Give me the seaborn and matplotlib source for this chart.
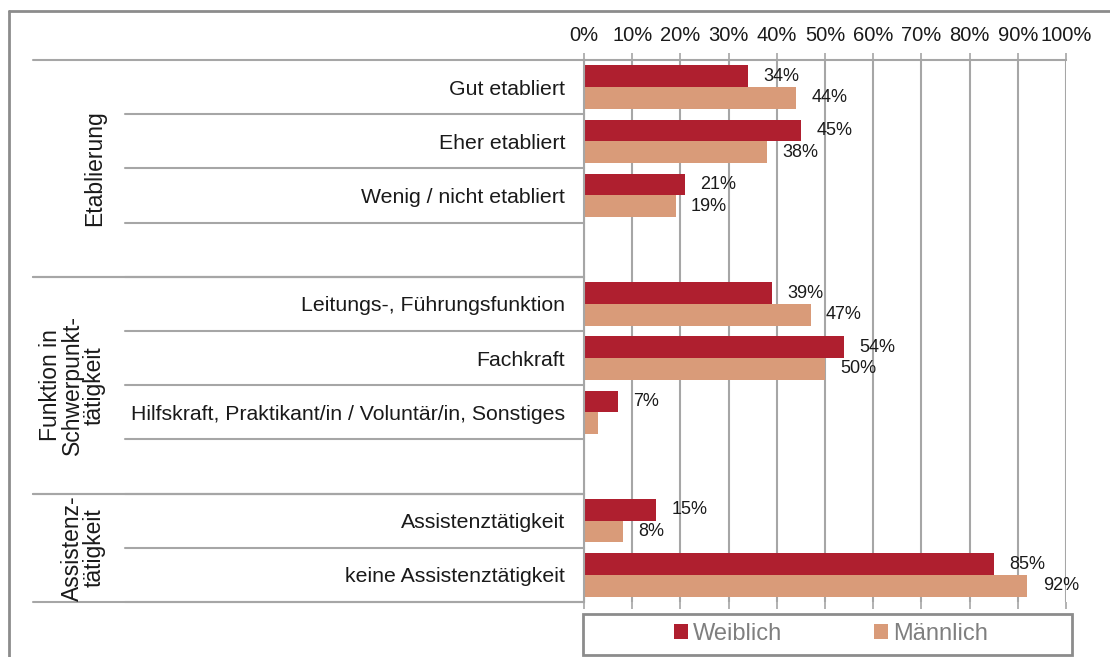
import numpy as np
import pandas as pd
import matplotlib
matplotlib.use("Agg")
import matplotlib.pyplot as plt
from matplotlib.lines import Line2D
from matplotlib.patches import Patch, Rectangle
import seaborn as sns

# Data (percent)
group_names = ["Etablierung", "Funktion in\nSchwerpunkt-\ntätigkeit", "Assistenz-\ntätigkeit"]
group_items = [
    ["Gut etabliert", "Eher etabliert", "Wenig / nicht etabliert"],
    ["Leitungs-, Führungsfunktion", "Fachkraft",
     "Hilfskraft, Praktikant/in / Voluntär/in, Sonstiges"],
    ["Assistenztätigkeit", "keine Assistenztätigkeit"],
]
weiblich = [34, 45, 21, 39, 54, 7, 15, 85]
maennlich = [44, 38, 19, 47, 50, 3, 8, 92]
series = ["Weiblich", "Männlich"]
colors = ["#AF1F2F", "#D99B79"]
ticks = list(range(0, 101, 10))
min_label = 5  # smaller values have no data label in the original

sns.set_theme(style="white")
plt.rcParams["font.family"] = ["Liberation Sans", "DejaVu Sans"]

# build category order, with one empty slot after the first two groups
order, group_span, blank = [], [], 0
for gi, items in enumerate(group_items):
    start = len(order)
    order += items
    if gi < len(group_items) - 1:
        blank += 1
        order.append(" " * blank)
    group_span.append((start, len(order)))

cats = [c for items in group_items for c in items]
df = pd.DataFrame({
    "Kategorie": cats * 2,
    "Geschlecht": [series[0]] * len(cats) + [series[1]] * len(cats),
    "Wert": weiblich + maennlich,
})

fig = plt.figure(figsize=(11.1, 6.57), dpi=100)
ax = fig.add_axes([584 / 1110, 1 - 602 / 657, 482 / 1110, 542 / 657])

sns.barplot(data=df, y="Kategorie", x="Wert", hue="Geschlecht", order=order,
            hue_order=series, palette=colors, orient="h", width=0.8,
            linewidth=0, saturation=1, ax=ax, legend=False)

for c in ax.containers:
    labels = [f"{v:.0f}%" if v >= min_label else "" for v in c.datavalues]
    ax.bar_label(c, labels=labels, padding=11, fontsize=13, color="#1a1a1a")

grid_c = "#a6a6a6"
ax.set_xlim(0, 100)
ax.set_ylim(len(order) - 0.5, -0.5)
ax.set_xticks(ticks)
ax.set_xticklabels([f"{t}%" for t in ticks], fontsize=14.5, color="#1a1a1a")
ax.xaxis.tick_top()
ax.tick_params(axis="x", top=True, bottom=True, labelbottom=False, length=5,
               width=1.2, color=grid_c, pad=6, direction="out")
ax.grid(axis="x", color=grid_c, linewidth=1.5)
ax.set_axisbelow(True)
ax.set_xlabel("")
ax.set_ylabel("")
ax.set_yticks(range(len(order)))
ax.set_yticklabels([o.strip() for o in order], fontsize=15.3, color="#1a1a1a")
ax.tick_params(axis="y", left=False, length=0, pad=13.5)
for s in ["bottom", "right"]:
    ax.spines[s].set_visible(False)
for s in ["left", "top"]:
    ax.spines[s].set_color(grid_c)
    ax.spines[s].set_linewidth(1.5)

# separator lines in the label area
trans = ax.get_yaxis_transform()
x_group = (33 - 584) / 482
x_inner = (125 - 584) / 482
for gi, (start, end) in enumerate(group_span):
    for b in range(start, end):
        ax.add_line(Line2D([x_inner, 0], [b + 0.5, b + 0.5], transform=trans,
                           color=grid_c, linewidth=1.5, clip_on=False))
    for y in (start - 0.5, end - 0.5):
        ax.add_line(Line2D([x_group, 0], [y, y], transform=trans,
                           color=grid_c, linewidth=1.5, clip_on=False))
    ax.text((106 - 584) / 482, (start + end - 1) / 2, group_names[gi],
            transform=trans, rotation=90, ha="right", va="center",
            multialignment="center", fontsize=16.5, color="#1a1a1a",
            linespacing=0.95)

# outer chart border (cropped at right and bottom)
border_c = "#8c8c8c"
fig.add_artist(Line2D([9 / 1110, 1.01], [1 - 11 / 657] * 2, transform=fig.transFigure,
                      color=border_c, linewidth=2))
fig.add_artist(Line2D([9 / 1110] * 2, [-0.01, 1 - 11 / 657], transform=fig.transFigure,
                      color=border_c, linewidth=2))

# legend box
fig.add_artist(Rectangle((583 / 1110, 1 - 655 / 657), 489 / 1110, 41 / 657,
                         transform=fig.transFigure, facecolor="white",
                         edgecolor=border_c, linewidth=2))
handles = [Patch(facecolor=col, edgecolor="none", label=s) for s, col in zip(series, colors)]
leg = fig.legend(handles=handles, ncol=2, loc="center",
                 bbox_to_anchor=(831 / 1110, 1 - 634 / 657),
                 frameon=False, fontsize=17,
                 handlelength=0.6, handleheight=0.6, handletextpad=0.2,
                 borderaxespad=0, borderpad=0, columnspacing=3.9)
for t in leg.get_texts():
    t.set_color("#7f7f7f")

fig.savefig("out.png", dpi=100)
